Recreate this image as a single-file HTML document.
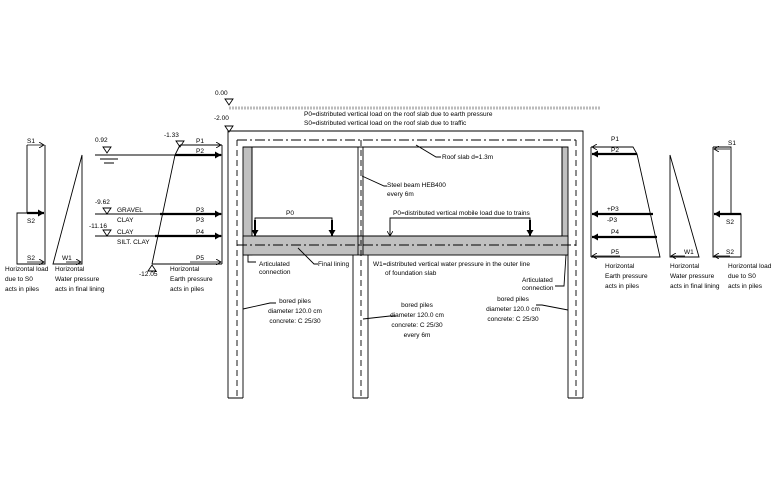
<!DOCTYPE html>
<html><head><meta charset="utf-8"><style>
html,body{margin:0;padding:0;background:#fff;}
svg{display:block;}
text{font-family:"Liberation Sans",sans-serif;font-size:6.5px;fill:#000;}
</style></head><body>
<svg width="775" height="491" viewBox="0 0 775 491" xmlns="http://www.w3.org/2000/svg">
<defs>
<marker id="a" markerWidth="6" markerHeight="6" refX="5" refY="3" orient="auto" markerUnits="userSpaceOnUse"><path d="M0,0 L5,3 L0,6" fill="none" stroke="#000" stroke-width="0.8"/></marker>
<marker id="b" markerWidth="7" markerHeight="7" refX="6" refY="3.5" orient="auto" markerUnits="userSpaceOnUse"><path d="M0,0 L6,3.5 L0,7 Z" fill="#000"/></marker>
</defs>
<g stroke="#000" stroke-width="0.9" fill="none">
<line x1="229" y1="108" x2="600" y2="108" stroke="#bbb" stroke-width="3" stroke-dasharray="2,1"/>
<path d="M225,99 L233,99 L229,105 Z M225,126 L233,126 L229,132 Z"/>
<path d="M228,398 L228,131 L583,131 L583,398"/>
<path d="M243,398 L243,255 M228,398 L243,398"/>
<path d="M353,398 L353,255 M368,398 L368,255 M353,398 L368,398"/>
<path d="M568,398 L568,255 M568,398 L583,398"/>
<rect x="243" y="147" width="9" height="108" fill="#c0c0c0"/>
<rect x="562" y="147" width="6" height="108" fill="#c0c0c0"/>
<rect x="243" y="236" width="325" height="19" fill="#c0c0c0"/>
<line x1="243" y1="147" x2="568" y2="147"/>
<line x1="252" y1="147" x2="252" y2="236"/>
<line x1="562" y1="147" x2="562" y2="236"/>
<line x1="252" y1="236" x2="562" y2="236"/>
<line x1="358" y1="147" x2="358" y2="255"/>
<line x1="363" y1="147" x2="363" y2="255"/>
<line x1="237" y1="140" x2="578" y2="140" stroke-dasharray="10,3,2,3"/>
<line x1="237" y1="245" x2="578" y2="245" stroke-dasharray="10,3,2,3"/>
<line x1="237" y1="140" x2="237" y2="398" stroke-dasharray="6,4"/>
<line x1="576" y1="140" x2="576" y2="398" stroke-dasharray="6,4"/>
<line x1="361" y1="140" x2="361" y2="398" stroke-dasharray="6,4"/>
<path d="M255,236 L255,218 L332,218 L332,236"/>
<path d="M390,236 L390,218 L530,218 L530,236"/>
<path d="M416,145 L436,157 L441,157"/>
<path d="M362,176 L384,186 L387,186"/>
<path d="M248,255 L248,262 L256,262"/>
<path d="M298,248 L314,264 L318,264"/>
<path d="M566,255 L564,286 L555,286"/>
<path d="M243,309 L270,303 L276,303"/>
<path d="M363,319 L390,316 L396,316"/>
<path d="M568,310 L542,305 L536,305"/>
<path d="M27,145 L27,213 L17,213 L17,264 L45,264 L45,145"/>
<path d="M82,155 L82,264 L53,264 Z"/>
<line x1="95" y1="155" x2="222" y2="155"/>
<path d="M100,159 L118,159 M104,163 L114,163"/>
<path d="M103,147 L111,147 L107,153 Z"/>
<path d="M176,141 L184,141 L180,147 Z"/>
<path d="M148,271 L156,271 L152,265 Z"/>
<path d="M103,208 L111,208 L107,214 Z"/>
<path d="M103,230 L111,230 L107,236 Z"/>
<line x1="95" y1="214" x2="222" y2="214"/>
<line x1="95" y1="236" x2="222" y2="236"/>
<line x1="152" y1="264" x2="222" y2="264"/>
<line x1="180" y1="145" x2="222" y2="145"/>
<line x1="222" y1="145" x2="222" y2="264"/>
<path d="M180,145 L175,155 L152,264"/>
<path d="M591,147 L591,257"/>
<path d="M591,147 L633,147 L637,154 L660,257 L591,257"/>
<path d="M670,155 L670,257 L699,257 Z"/>
<path d="M713,147 L731,147 L731,214 L741,214 L741,257 L713,257 L713,147"/>
</g>
<g stroke="#000" fill="none">
<line x1="27" y1="145" x2="44" y2="145" stroke-width="0.8" marker-end="url(#a)"/>
<line x1="27" y1="213" x2="44" y2="213" stroke-width="2.2" marker-end="url(#b)"/>
<line x1="27" y1="262" x2="44" y2="262" stroke-width="0.8" marker-end="url(#a)"/>
<line x1="66" y1="262" x2="81" y2="262" stroke-width="0.8" marker-end="url(#a)"/>
<line x1="175" y1="155" x2="221" y2="155" stroke-width="2.2" marker-end="url(#b)"/>
<line x1="190" y1="145" x2="221" y2="145" stroke-width="0.8" marker-end="url(#a)"/>
<line x1="160" y1="214" x2="221" y2="214" stroke-width="2.2" marker-end="url(#b)"/>
<line x1="155" y1="236" x2="221" y2="236" stroke-width="2.2" marker-end="url(#b)"/>
<line x1="190" y1="262" x2="221" y2="262" stroke-width="0.8" marker-end="url(#a)"/>
<line x1="630" y1="147" x2="592" y2="147" stroke-width="0.8" marker-end="url(#a)"/>
<line x1="637" y1="154" x2="592" y2="154" stroke-width="2.2" marker-end="url(#b)"/>
<line x1="653" y1="214" x2="592" y2="214" stroke-width="2.2" marker-end="url(#b)"/>
<line x1="657" y1="237" x2="592" y2="237" stroke-width="2.2" marker-end="url(#b)"/>
<line x1="620" y1="256" x2="592" y2="256" stroke-width="0.8" marker-end="url(#a)"/>
<line x1="685" y1="256" x2="671" y2="256" stroke-width="0.8" marker-end="url(#a)"/>
<line x1="730" y1="149" x2="714" y2="149" stroke-width="0.8" marker-end="url(#a)"/>
<line x1="741" y1="214" x2="714" y2="214" stroke-width="2.2" marker-end="url(#b)"/>
<line x1="730" y1="256" x2="714" y2="256" stroke-width="0.8" marker-end="url(#a)"/>
<line x1="255" y1="220" x2="255" y2="236" stroke-width="2" marker-end="url(#b)"/>
<line x1="332" y1="220" x2="332" y2="236" stroke-width="2" marker-end="url(#b)"/>
<line x1="390" y1="220" x2="390" y2="236" stroke-width="0.8" marker-end="url(#a)"/>
<line x1="530" y1="220" x2="530" y2="236" stroke-width="2" marker-end="url(#b)"/>
</g>
<text x="215" y="95">0.00</text>
<text x="214" y="120">-2.00</text>
<text x="304" y="116">P0=distributed vertical load on the roof slab due to earth pressure</text>
<text x="304" y="125">S0=distributed vertical load on the roof slab due to traffic</text>
<text x="442" y="159">Roof slab d=1.3m</text>
<text x="387" y="187">Steel beam HEB400</text>
<text x="387" y="196">every 6m</text>
<text x="286" y="215">P0</text>
<text x="393" y="215">P0=distributed vertical mobile load due to trains</text>
<text x="259" y="266">Articulated</text>
<text x="259" y="274">connection</text>
<text x="318" y="266">Final lining</text>
<text x="373" y="266">W1=distributed vertical water pressure in the outer line</text>
<text x="385" y="275">of foundation slab</text>
<text x="522" y="282">Articulated</text>
<text x="522" y="290">connection</text>
<g text-anchor="middle">
<text x="295" y="303">bored piles</text><text x="295" y="313">diameter 120.0 cm</text><text x="295" y="323">concrete: C 25/30</text>
<text x="417" y="307">bored piles</text><text x="417" y="317">diameter 120.0 cm</text><text x="417" y="327">concrete: C 25/30</text><text x="417" y="337">every 6m</text>
<text x="513" y="301">bored piles</text><text x="513" y="311">diameter 120.0 cm</text><text x="513" y="321">concrete: C 25/30</text>
</g>
<text x="27" y="143">S1</text>
<text x="27" y="223">S2</text>
<text x="27" y="260">S2</text>
<text x="62" y="260">W1</text>
<text x="95" y="142">0.92</text>
<text x="164" y="137">-1.33</text>
<text x="196" y="143">P1</text>
<text x="196" y="153">P2</text>
<text x="95" y="204">-9.62</text>
<text x="117" y="212">GRAVEL</text>
<text x="117" y="222">CLAY</text>
<text x="196" y="212">P3</text>
<text x="196" y="222">P3</text>
<text x="89" y="228">-11.16</text>
<text x="117" y="234">CLAY</text>
<text x="117" y="244">SILT. CLAY</text>
<text x="196" y="234">P4</text>
<text x="196" y="260">P5</text>
<text x="139" y="276">-12.05</text>
<text x="5" y="271">Horizontal load</text><text x="5" y="281">due to S0</text><text x="5" y="291">acts in piles</text>
<text x="55" y="271">Horizontal</text><text x="55" y="281">Water pressure</text><text x="55" y="291">acts in final lining</text>
<text x="170" y="271">Horizontal</text><text x="170" y="281">Earth pressure</text><text x="170" y="291">acts in piles</text>
<text x="611" y="141">P1</text>
<text x="611" y="152">P2</text>
<text x="607" y="211">+P3</text>
<text x="607" y="222">-P3</text>
<text x="611" y="234">P4</text>
<text x="611" y="254">P5</text>
<text x="684" y="254">W1</text>
<text x="728" y="145">S1</text>
<text x="726" y="224">S2</text>
<text x="726" y="254">S2</text>
<text x="605" y="268">Horizontal</text><text x="605" y="278">Earth pressure</text><text x="605" y="288">acts in piles</text>
<text x="670" y="268">Horizontal</text><text x="670" y="278">Water pressure</text><text x="670" y="288">acts in final lining</text>
<text x="728" y="268">Horizontal load</text><text x="728" y="278">due to S0</text><text x="728" y="288">acts in piles</text>
</svg>
</body></html>
